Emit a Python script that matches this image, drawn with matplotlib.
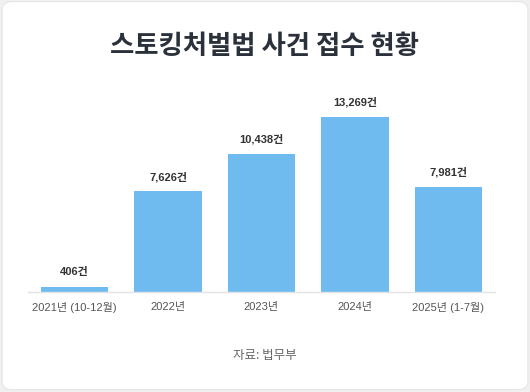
import matplotlib.pyplot as plt
from matplotlib.patches import FancyBboxPatch

plt.rcParams['font.family'] = ['Noto Sans CJK KR', 'DejaVu Sans']
num_font = ['Liberation Sans', 'Noto Sans CJK KR']

categories = ['2021년 (10-12월)', '2022년', '2023년', '2024년', '2025년 (1-7월)']
cases = [406, 7626, 10438, 13269, 7981]

W, H = 530, 392
fig = plt.figure(figsize=(W / 100, H / 100), dpi=100)
fig.patch.set_facecolor('#f0f0f0')

# card background
card = FancyBboxPatch((0.004, 0.006), 0.992, 0.99, boxstyle='round,pad=0,rounding_size=0.02',
                      transform=fig.transFigure, facecolor='white', edgecolor='#e6e6e6', lw=0.8,
                      zorder=-5)
fig.patches.append(card)

ax = fig.add_axes([28 / W, 1 - 292 / H, (495 - 28) / W, (292 - 94) / H])
ax.set_zorder(5)
ax.set_facecolor('none')
x = range(len(categories))
bars = ax.bar(x, cases, width=0.72, color='#6fbbf0')
ax.set_xlim(-0.5, 4.5)
ax.set_ylim(0, 15000)

for b, v in zip(bars, cases):
    ax.text(b.get_x() + b.get_width() / 2, v + 700, f'{v:,}건', ha='center', va='bottom',
            fontsize=8, fontweight='bold', color='#333333', family=num_font)

ax.set_xticks(list(x))
ax.set_xticklabels(categories, fontsize=8, color='#555555', family=num_font)
ax.tick_params(axis='x', length=0, pad=7)
ax.set_yticks([])
for s in ['top', 'right', 'left']:
    ax.spines[s].set_visible(False)
ax.spines['bottom'].set_color('#e3e3e3')
ax.spines['bottom'].set_linewidth(1)

fig.text(0.5, 1 - 47 / H, '스토킹처벌법 사건 접수 현황', ha='center', va='center',
         fontsize=19, fontweight='bold', color='#2b313b')
fig.text(0.5, 1 - 355 / H, '자료: 법무부', ha='center', va='center', fontsize=9, color='#666666')

fig.savefig('out.png', dpi=100, facecolor=fig.get_facecolor())
